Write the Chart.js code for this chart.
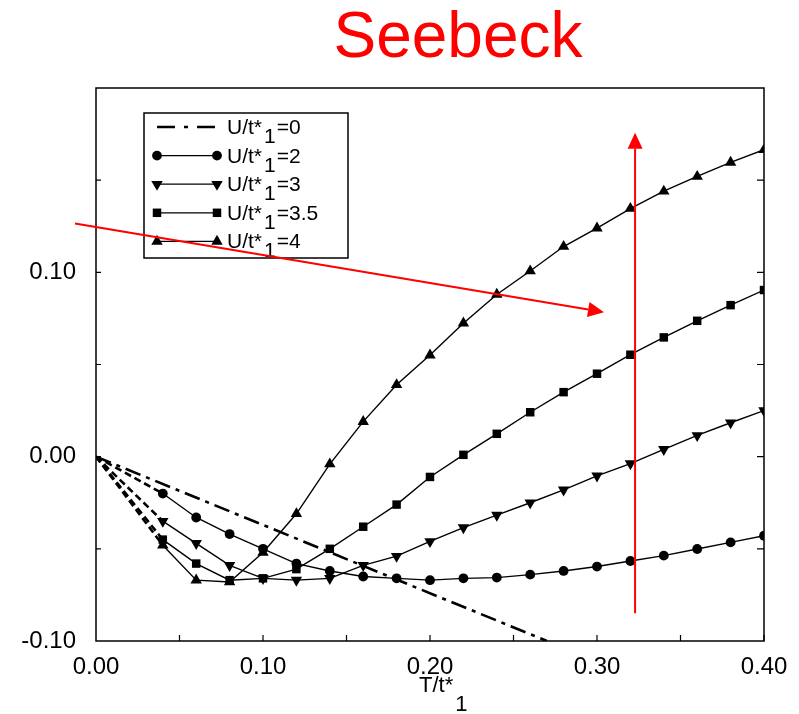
<!DOCTYPE html>
<html>
<head>
<meta charset="utf-8">
<script src="https://cdn.jsdelivr.net/npm/chart.js"></script>
<style>
  body { margin: 0; background: #fff; }
  #wrap { width: 799px; height: 714px; }
</style>
</head>
<body>
<div id="wrap"><canvas id="chart" width="799" height="714"></canvas></div>
<script>
// temperatures T/t*1 where the curves have markers
const T = [0, 0.04, 0.06, 0.08, 0.10, 0.12, 0.14, 0.16, 0.18, 0.20,
           0.22, 0.24, 0.26, 0.28, 0.30, 0.32, 0.34, 0.36, 0.38, 0.40];
// U/t*1 = 0 is a straight line
const T_U0 = [0, 0.27];
const S_U0 = [0, -0.10];
const S_U2 = [0, -0.020, -0.033, -0.042, -0.050, -0.058, -0.062, -0.065, -0.066, -0.067,
              -0.066, -0.0656, -0.064, -0.062, -0.0596, -0.0566, -0.0537, -0.0501, -0.0465, -0.0429];
const S_U3 = [0, -0.035, -0.047, -0.059, -0.066, -0.067, -0.066, -0.059, -0.054, -0.046,
              -0.0385, -0.0317, -0.025, -0.018, -0.0104, -0.0038, 0.004, 0.0115, 0.0184, 0.025];
const S_U35 = [0, -0.045, -0.058, -0.067, -0.066, -0.061, -0.050, -0.038, -0.026, -0.011,
               0.001, 0.0124, 0.0241, 0.035, 0.045, 0.0553, 0.0647, 0.0737, 0.0822, 0.0904];
const S_U4 = [0, -0.048, -0.067, -0.068, -0.052, -0.031, -0.004, 0.019, 0.039, 0.0551,
              0.0724, 0.088, 0.1007, 0.114, 0.124, 0.1346, 0.144, 0.152, 0.1596, 0.1665];
const uLabels = ['0', '2', '3', '3.5', '4'];
const xTicks = [0, 0.1, 0.2, 0.3, 0.4];
const yTicks = [-0.1, 0, 0.1];

// red annotation arrows, in data units (from -> tip)
const arrows = [
  { from: [-0.0126, 0.1265], to: [0.3042, 0.0784] },
  { from: [0.3228, -0.0849], to: [0.3228, 0.1757] }
];

const FONT = '"Liberation Sans", Arial, sans-serif';
const U0_DASH = [16, 6, 4, 6];

function pts(xs, ys) {
  return xs.map((x, i) => ({ x: x, y: ys[i] }));
}

function series(label, ys, style, r, rot) {
  return {
    label: label,
    data: pts(T, ys),
    borderColor: '#000',
    borderWidth: 1.4,
    pointStyle: style,
    pointRotation: rot || 0,
    pointRadius: T.map((t, i) => i === 0 ? 0 : r),
    pointHoverRadius: T.map((t, i) => i === 0 ? 0 : r),
    pointBackgroundColor: '#000',
    pointBorderColor: '#000',
    pointBorderWidth: 0,
    segment: {
      borderDash: c => c.p0DataIndex === 0 ? [7, 4] : undefined,
      borderWidth: c => c.p0DataIndex === 0 ? 2.6 : undefined
    }
  };
}

function drawMarker(ctx, style, x, y, r, rot) {
  ctx.beginPath();
  if (style === 'circle') {
    ctx.arc(x, y, r, 0, Math.PI * 2);
  } else if (style === 'rect') {
    const h = r * Math.SQRT1_2;
    ctx.rect(x - h, y - h, 2 * h, 2 * h);
  } else if (style === 'triangle') {
    let a = (rot || 0) * Math.PI / 180;
    for (let k = 0; k < 3; k++) {
      const px = x + Math.sin(a) * r, py = y - Math.cos(a) * r;
      k === 0 ? ctx.moveTo(px, py) : ctx.lineTo(px, py);
      a += Math.PI * 2 / 3;
    }
    ctx.closePath();
  }
  ctx.fill();
}

const markers = [null, ['circle', 4.9, 0], ['triangle', 6.6, 180], ['rect', 6, 0], ['triangle', 6.6, 0]];

const decor = {
  id: 'decor',
  afterDraw(chart) {
    const ctx = chart.ctx, a = chart.chartArea;
    const xs = chart.scales.x, ys = chart.scales.y;
    ctx.save();
    // frame
    ctx.strokeStyle = '#000';
    ctx.lineWidth = 1.5;
    ctx.strokeRect(a.left, a.top, a.right - a.left, a.bottom - a.top);
    // inward ticks
    ctx.lineWidth = 1.2;
    ctx.beginPath();
    for (let v = 0.05; v < 0.4; v += 0.05) {
      const px = xs.getPixelForValue(v);
      ctx.moveTo(px, a.bottom); ctx.lineTo(px, a.bottom - 6);
    }
    for (let v = -0.05; v < 0.2; v += 0.05) {
      const py = ys.getPixelForValue(v);
      ctx.moveTo(a.left, py); ctx.lineTo(a.left + 5, py);
      ctx.moveTo(a.right, py); ctx.lineTo(a.right - 7, py);
    }
    ctx.stroke();

    // x axis title T/t*1
    ctx.fillStyle = '#000';
    ctx.font = '22px ' + FONT;
    ctx.textBaseline = 'alphabetic';
    ctx.textAlign = 'left';
    const tx = 419;
    ctx.fillText('T/t*', tx, 692);
    ctx.fillText('1', tx + ctx.measureText('T/t*').width + 2, 711);

    // legend box
    ctx.lineWidth = 1.5;
    ctx.strokeRect(144, 113, 204, 145);
    ctx.font = '21px ' + FONT;
    uLabels.forEach((u, i) => {
      const ry = 127 + i * 28.6;
      ctx.beginPath();
      if (i === 0) {
        ctx.lineWidth = 2.6;
        ctx.setLineDash([18, 9, 4, 9]);
      } else {
        ctx.lineWidth = 1.2;
        ctx.setLineDash([]);
      }
      ctx.moveTo(157, ry); ctx.lineTo(217, ry);
      ctx.stroke();
      ctx.setLineDash([]);
      if (markers[i]) {
        const m = markers[i];
        drawMarker(ctx, m[0], 157, ry, m[1], m[2]);
        drawMarker(ctx, m[0], 217, ry, m[1], m[2]);
      }
      let x = 227;
      ctx.fillText('U/t*', x, ry + 7);
      x += ctx.measureText('U/t*').width + 2;
      ctx.fillText('1', x, ry + 16);
      x += ctx.measureText('1').width + 1;
      ctx.fillText('=' + u, x, ry + 7);
    });

    // title
    ctx.fillStyle = '#ff0000';
    ctx.font = '64px ' + FONT;
    ctx.textAlign = 'center';
    ctx.fillText('Seebeck', 458, 57);

    // red arrows
    ctx.strokeStyle = '#ff0000';
    ctx.lineWidth = 2;
    arrows.forEach(ar => {
      const x0 = xs.getPixelForValue(ar.from[0]), y0 = ys.getPixelForValue(ar.from[1]);
      const x1 = xs.getPixelForValue(ar.to[0]), y1 = ys.getPixelForValue(ar.to[1]);
      const ang = Math.atan2(y1 - y0, x1 - x0);
      const hl = 16, hw = 7.5;
      const bx = x1 - Math.cos(ang) * hl, by = y1 - Math.sin(ang) * hl;
      ctx.beginPath();
      ctx.moveTo(x0, y0); ctx.lineTo(bx, by);
      ctx.stroke();
      ctx.beginPath();
      ctx.moveTo(x1, y1);
      ctx.lineTo(bx + Math.sin(ang) * hw, by - Math.cos(ang) * hw);
      ctx.lineTo(bx - Math.sin(ang) * hw, by + Math.cos(ang) * hw);
      ctx.closePath();
      ctx.fill();
    });
    ctx.restore();
  }
};

new Chart(document.getElementById('chart'), {
  type: 'line',
  data: {
    datasets: [
      {
        label: 'U/t*1=0',
        data: pts(T_U0, S_U0),
        borderColor: '#000',
        borderWidth: 2.6,
        borderDash: U0_DASH,
        pointRadius: 0,
        pointHoverRadius: 0
      },
      series('U/t*1=2', S_U2, 'circle', 4.9),
      series('U/t*1=3', S_U3, 'triangle', 6.6, 180),
      series('U/t*1=3.5', S_U35, 'rect', 6),
      series('U/t*1=4', S_U4, 'triangle', 6.6)
    ]
  },
  options: {
    responsive: false,
    animation: false,
    layout: { padding: { top: 88, right: 35, left: 0, bottom: 0 } },
    plugins: { legend: { display: false }, tooltip: { enabled: false } },
    scales: {
      x: {
        type: 'linear', min: 0, max: 0.4,
        afterBuildTicks: s => { s.ticks = xTicks.map(v => ({ value: v })); },
        afterFit: s => { s.height = 73; },
        grid: { display: false },
        border: { display: false },
        ticks: {
          autoSkip: false, maxRotation: 0, padding: 4, color: '#000',
          font: { family: FONT, size: 24 },
          callback: v => v.toFixed(2)
        }
      },
      y: {
        type: 'linear', min: -0.1, max: 0.2,
        afterBuildTicks: s => { s.ticks = yTicks.map(v => ({ value: v })); },
        afterFit: s => { s.width = 96; },
        grid: { display: false },
        border: { display: false },
        ticks: {
          autoSkip: false, padding: 12, color: '#000',
          font: { family: FONT, size: 24 },
          callback: v => v.toFixed(2)
        }
      }
    }
  },
  plugins: [decor]
});
</script>
</body>
</html>
